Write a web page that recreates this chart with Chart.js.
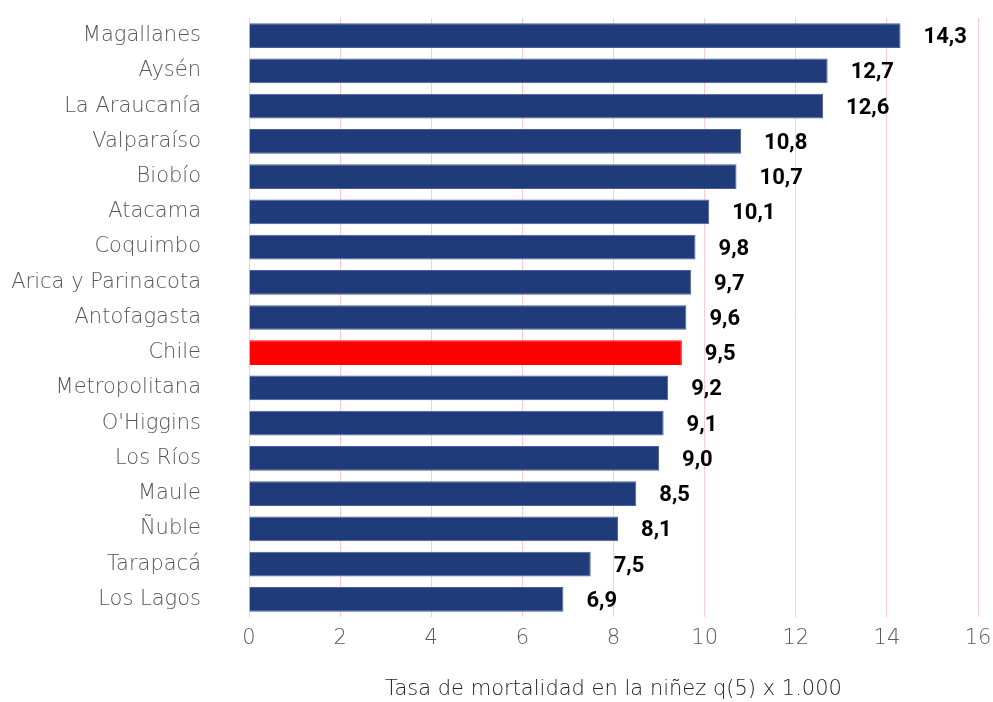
<!DOCTYPE html>
<html>
<head>
<meta charset="utf-8">
<script src="https://cdn.jsdelivr.net/npm/chart.js@4"></script>
<style>
  html, body { margin: 0; padding: 0; background: #fff; }
  #wrap { width: 993px; height: 702px; }
</style>
</head>
<body>
<div id="wrap"><canvas id="mortChart"></canvas></div>
<script>
const regiones = ["Magallanes", "Aysén", "La Araucanía", "Valparaíso", "Biobío", "Atacama", "Coquimbo",
  "Arica y Parinacota", "Antofagasta", "Chile", "Metropolitana", "O'Higgins", "Los Ríos", "Maule",
  "Ñuble", "Tarapacá", "Los Lagos"];
const tasas = [14.3, 12.7, 12.6, 10.8, 10.7, 10.1, 9.8, 9.7, 9.6, 9.5, 9.2, 9.1, 9.0, 8.5, 8.1, 7.5, 6.9];
const tituloX = "Tasa de mortalidad en la niñez q(5) x 1.000";

const colores = regiones.map((r) => (r === "Chile" ? "#ff0000" : "#1f3b7a"));
const bordes = regiones.map((r) => (r === "Chile" ? "#ff0000" : "#4b5f98"));

const valueLabels = {
  id: "valueLabels",
  afterDatasetsDraw(chart) {
    const ctx = chart.ctx;
    const meta = chart.getDatasetMeta(0);
    ctx.save();
    ctx.font = "bold 22px Roboto";
    ctx.fillStyle = "#000";
    ctx.textAlign = "left";
    ctx.textBaseline = "middle";
    meta.data.forEach((bar, i) => {
      ctx.fillText(tasas[i].toFixed(1).replace(".", ","), bar.x + 23, bar.y + 2);
    });
    ctx.restore();
  },
};

document.addEventListener("DOMContentLoaded", function () {
  const ctx = document.getElementById("mortChart");
  new Chart(ctx, {
    type: "bar",
    data: {
      labels: regiones,
      datasets: [
        {
          data: tasas,
          backgroundColor: colores,
          borderColor: bordes,
          borderWidth: 1,
          barPercentage: 0.78,
          categoryPercentage: 0.9,
        },
      ],
    },
    options: {
      indexAxis: "y",
      responsive: true,
      maintainAspectRatio: false,
      animation: false,
      layout: { padding: { top: 18, right: 15, left: 0, bottom: 0 } },
      plugins: {
        legend: { display: false },
        tooltip: { enabled: false },
      },
      scales: {
        x: {
          min: 0,
          max: 16,
          ticks: {
            stepSize: 2,
            color: "#595959",
            padding: 9,
            font: { family: "DejaVu Sans", size: 21, weight: "200" },
          },
          grid: { color: "#ffc9d2", drawTicks: false, lineWidth: 1 },
          border: { display: false },
          title: {
            display: true,
            text: tituloX,
            color: "#222",
            padding: { top: 23, bottom: 0 },
            font: { family: "DejaVu Sans", size: 21, weight: "200" },
          },
          afterFit(scale) {
            scale.height = 85;
            scale.paddingLeft = 0;
            scale.paddingRight = 0;
          },
        },
        y: {
          ticks: {
            color: "#555",
            padding: 48,
            font: { family: "DejaVu Sans", size: 21, weight: "200" },
          },
          grid: { display: false, drawTicks: false },
          border: { display: false },
          afterFit(scale) {
            scale.width = 249;
            scale.paddingTop = 0;
            scale.paddingBottom = 0;
          },
        },
      },
    },
    plugins: [valueLabels],
  });
});
</script>
</body>
</html>
